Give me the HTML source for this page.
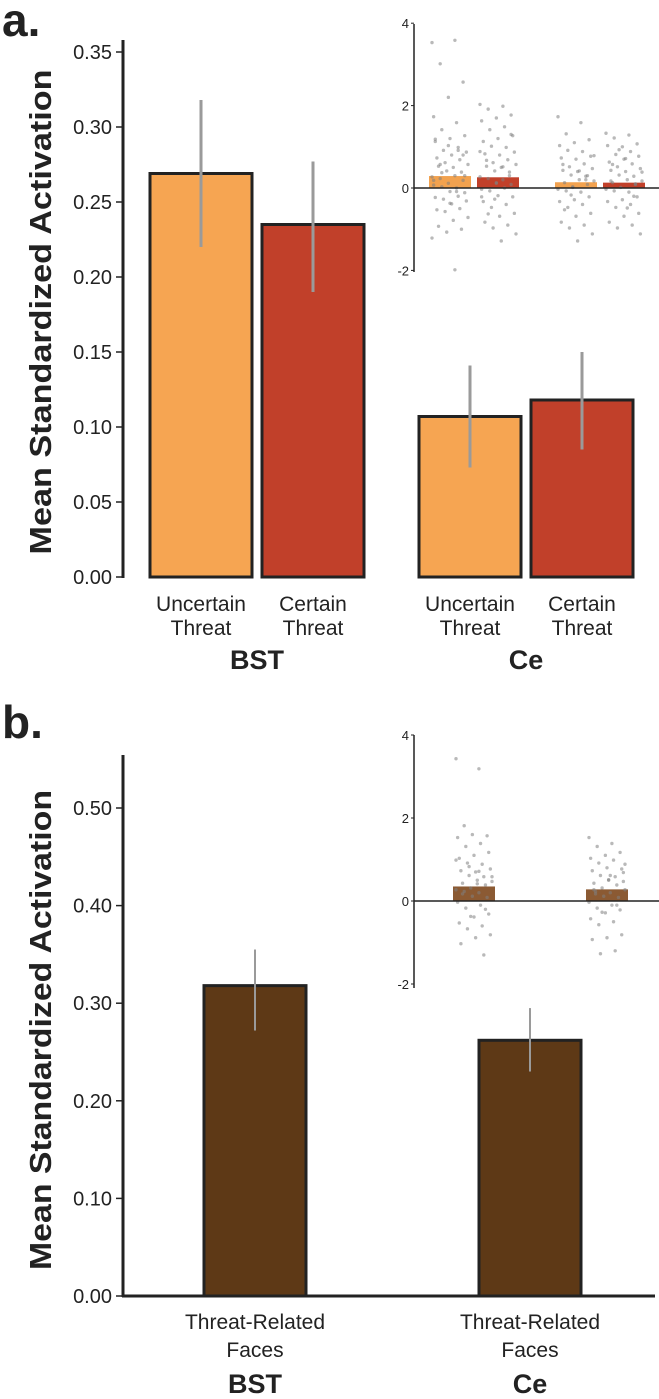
<!DOCTYPE html>
<html><head><meta charset="utf-8">
<style>
html,body{margin:0;padding:0;background:#fff;}
svg{display:block;font-family:"Liberation Sans",sans-serif;}
</style></head>
<body>
<svg id="fig" width="659" height="1399" viewBox="0 0 659 1399" xmlns="http://www.w3.org/2000/svg">
<text x="2" y="36" font-size="46" font-weight="bold" fill="#222">a.</text>
<text x="2" y="738" font-size="46" font-weight="bold" fill="#222">b.</text>
<text transform="translate(51,312) rotate(-90)" text-anchor="middle" font-size="31" font-weight="bold" fill="#222" textLength="485" lengthAdjust="spacingAndGlyphs">Mean Standardized Activation</text>
<text transform="translate(51,1030) rotate(-90)" text-anchor="middle" font-size="31" font-weight="bold" fill="#222" textLength="480" lengthAdjust="spacingAndGlyphs">Mean Standardized Activation</text>
<g id="layer"></g>
</svg>
<script>
// Panel a data
const aCats = ["Uncertain Threat","Certain Threat","Uncertain Threat","Certain Threat"];
const aVals = [0.269, 0.235, 0.107, 0.118];
const aLo = [0.220, 0.190, 0.073, 0.085];
const aHi = [0.318, 0.277, 0.141, 0.150];
const aTicks = ["0.00","0.05","0.10","0.15","0.20","0.25","0.30","0.35"];
const aRegions = ["BST","Ce"];
// Panel b data
const bCats = ["Threat-Related Faces","Threat-Related Faces"];
const bVals = [0.318, 0.262];
const bLo = [0.272, 0.230];
const bHi = [0.355, 0.295];
const bTicks = ["0.00","0.10","0.20","0.30","0.40","0.50"];
const bRegions = ["BST","Ce"];
// Inset data
const insetTicks = ["-2","0","2","4"];
const insetAMeans = [0.29, 0.26, 0.14, 0.13];
const insetBMeans = [0.35, 0.28];
const dotsA0 = [3.5,3.6,3.0,2.6,2.2,1.7,1.6,1.4,1.3,1.2,1.1,1.0,0.9,0.9,0.8,0.7,0.7,0.6,0.6,0.5,0.5,0.4,0.4,0.3,0.3,0.2,0.2,0.1,0.1,0.0,0.0,-0.1,-0.1,-0.2,-0.2,-0.3,-0.3,-0.4,-0.5,-0.5,-0.6,-0.7,-0.8,-0.9,-1.0,-1.1,-1.2,-2.0,0.6,0.8,1.0,0.2,-0.1,0.4,0.3,-0.4,1.2,0.9];
const dotsA1 = [2.0,2.0,1.9,1.8,1.7,1.6,1.5,1.4,1.3,1.2,1.1,1.0,1.0,0.9,0.8,0.8,0.7,0.6,0.6,0.5,0.5,0.4,0.4,0.3,0.2,0.2,0.1,0.1,0.0,0.0,-0.1,-0.2,-0.2,-0.3,-0.4,-0.5,-0.6,-0.7,-0.8,-0.9,-1.0,-1.1,-1.3,0.7,0.3,-0.3,0.9,0.5,-0.6,1.3,0.1,-0.2];
const dotsA2 = [1.7,1.6,1.3,1.2,1.1,1.0,0.9,0.9,0.8,0.7,0.7,0.6,0.5,0.5,0.4,0.4,0.3,0.3,0.2,0.2,0.1,0.1,0.0,0.0,-0.1,-0.1,-0.2,-0.3,-0.3,-0.4,-0.5,-0.6,-0.7,-0.8,-0.9,-1.0,-1.1,-1.3,0.6,0.2,-0.2,0.8,0.4,-0.5,0.3,0.0];
const dotsA3 = [1.3,1.3,1.2,1.1,1.0,1.0,0.9,0.8,0.8,0.7,0.6,0.6,0.5,0.5,0.4,0.4,0.3,0.3,0.2,0.2,0.1,0.1,0.0,0.0,-0.1,-0.1,-0.2,-0.3,-0.3,-0.4,-0.5,-0.6,-0.7,-0.8,-0.9,-1.0,-1.1,0.7,0.2,-0.2,0.9,0.4,-0.5,0.6,0.1];
const dotsB0 = [3.4,3.2,1.8,1.6,1.6,1.5,1.4,1.3,1.2,1.1,1.0,0.9,0.9,0.8,0.7,0.7,0.6,0.6,0.5,0.5,0.4,0.4,0.3,0.3,0.2,0.2,0.1,0.1,0.0,-0.1,-0.2,-0.3,-0.4,-0.5,-0.6,-0.7,-0.8,-0.9,-1.0,-1.3,0.8,0.6,0.4,0.2,-0.2,-0.4,1.0,0.7];
const dotsB1 = [1.5,1.4,1.3,1.2,1.1,1.0,1.0,0.9,0.8,0.8,0.7,0.6,0.6,0.5,0.5,0.4,0.4,0.3,0.3,0.2,0.2,0.1,0.1,0.0,-0.1,-0.2,-0.2,-0.3,-0.4,-0.5,-0.6,-0.8,-0.9,-0.9,-1.2,-1.3,0.7,0.5,0.3,-0.1,-0.3,0.9,0.6,0.2];

const NS = "http://www.w3.org/2000/svg";
const layer = document.getElementById('layer');
function mk(tag, attrs, parent){
  const e = document.createElementNS(NS, tag);
  for (const k in attrs) e.setAttribute(k, attrs[k]);
  (parent||layer).appendChild(e);
  return e;
}
const dark = "#222";

// ---------- Panel A ----------
const ayA = v => 577 - v * 1500;
const aX = [150, 262, 419, 531];
const aW = 102;
const aColors = ["#F6A552","#C1402A","#F6A552","#C1402A"];
let e = mk('line',{x1:123,y1:40,x2:123,y2:578,stroke:dark,'stroke-width':3});


aTicks.forEach((t,i)=>{
  const v = parseFloat(t), y = ayA(v);
  let tk = mk('line',{x1:116,y1:y,x2:123,y2:y,stroke:dark,'stroke-width':1.5});
  
  
  let tl = mk('text',{x:112,y:y+7,'text-anchor':'end','font-size':20,fill:dark});
  tl.textContent = t;
  
  
});
aVals.forEach((v,i)=>{
  let r = mk('rect',{x:aX[i],y:ayA(v),width:aW,height:ayA(0)-ayA(v),fill:aColors[i],stroke:dark,'stroke-width':3});
  
  
  const cx = aX[i]+aW/2;
  let eb = mk('line',{x1:cx,y1:ayA(aHi[i]),x2:cx,y2:ayA(aLo[i]),stroke:'#9a9a9a','stroke-width':3});
  
  
  const words = aCats[i].split(' ');
  words.forEach((w,j)=>{
    let t = mk('text',{x:cx,y:611+j*24,'text-anchor':'middle','font-size':21,fill:dark});
    t.textContent = w;
    
    
  });
});
aRegions.forEach((r,i)=>{
  const cx = (aX[i*2] + aX[i*2+1] + aW)/2;
  let t = mk('text',{x:cx,y:669,'text-anchor':'middle','font-size':27,'font-weight':'bold',fill:dark});
  t.textContent = r;
  
  
});

// ---------- Panel B ----------
const ayB = v => 1296 - v * 976;
const bX = [204, 479];
const bW = 102;
e = mk('line',{x1:123,y1:755,x2:123,y2:1297,stroke:dark,'stroke-width':3});


e = mk('line',{x1:122,y1:1296,x2:655,y2:1296,stroke:dark,'stroke-width':3});


bTicks.forEach(t=>{
  const y = ayB(parseFloat(t));
  let tk = mk('line',{x1:116,y1:y,x2:123,y2:y,stroke:dark,'stroke-width':1.5});
  
  
  let tl = mk('text',{x:112,y:y+7,'text-anchor':'end','font-size':20,fill:dark});
  tl.textContent = t;
  
  
});
bVals.forEach((v,i)=>{
  let r = mk('rect',{x:bX[i],y:ayB(v),width:bW,height:ayB(0)-ayB(v),fill:'#5E3916',stroke:dark,'stroke-width':3});
  
  
  const cx = bX[i]+bW/2;
  let eb = mk('line',{x1:cx,y1:ayB(bHi[i]),x2:cx,y2:ayB(bLo[i]),stroke:'#9a9a9a','stroke-width':2});
  
  
  const lines = ["Threat-Related","Faces"];
  lines.forEach((w,j)=>{
    let t = mk('text',{x:cx,y:1329+j*28,'text-anchor':'middle','font-size':21,fill:dark});
    t.textContent = w;
    
    
  });
  let rt = mk('text',{x:cx,y:1393,'text-anchor':'middle','font-size':27,'font-weight':'bold',fill:dark});
  rt.textContent = bRegions[i];
  
  
});

// ---------- Insets ----------
function inset(y0, unit, top, bottom, barsX, barW, means, colors, dotSets, tag){
  const iy = v => y0 - v*unit;
  let ax = mk('line',{x1:414,y1:top,x2:414,y2:bottom,stroke:dark,'stroke-width':1.5});
  
  
  insetTicks.forEach(t=>{
    const y = iy(parseFloat(t));
    let tk = mk('line',{x1:411,y1:y,x2:414,y2:y,stroke:dark,'stroke-width':1});
    
    
    let tl = mk('text',{x:409,y:y+5,'text-anchor':'end','font-size':13,fill:dark});
    tl.textContent = t;
    
    
  });
  means.forEach((m,i)=>{
    let r = mk('rect',{x:barsX[i],y:iy(m),width:barW,height:iy(0)-iy(m),fill:colors[i]});
    
    
  });
  dotSets.forEach((ds,i)=>{
    const cx = barsX[i]+barW/2;
    ds.forEach((v,k)=>{
      const off = (((k*37)%23)/22 - 0.5) * (barW-6);
      let c = mk('circle',{cx:cx+off,cy:iy(v)+((k*13)%5-2)*0.6,r:1.7,fill:'#808080','fill-opacity':0.55});
      
      
    });
  });
  let zl = mk('line',{x1:414,y1:iy(0),x2:659,y2:iy(0),stroke:dark,'stroke-width':1.5});
  
  
}
inset(188, 41.2, 24, 272, [429,477,555,603], 42, insetAMeans,
  ["#F2A24F","#C1402A","#F2A24F","#C1402A"], [dotsA0,dotsA1,dotsA2,dotsA3], 'a');
inset(901, 41.5, 735, 988, [453,586], 42, insetBMeans,
  ["#8B5A33","#8B5A33"], [dotsB0,dotsB1], 'b');
</script>
</body></html>
